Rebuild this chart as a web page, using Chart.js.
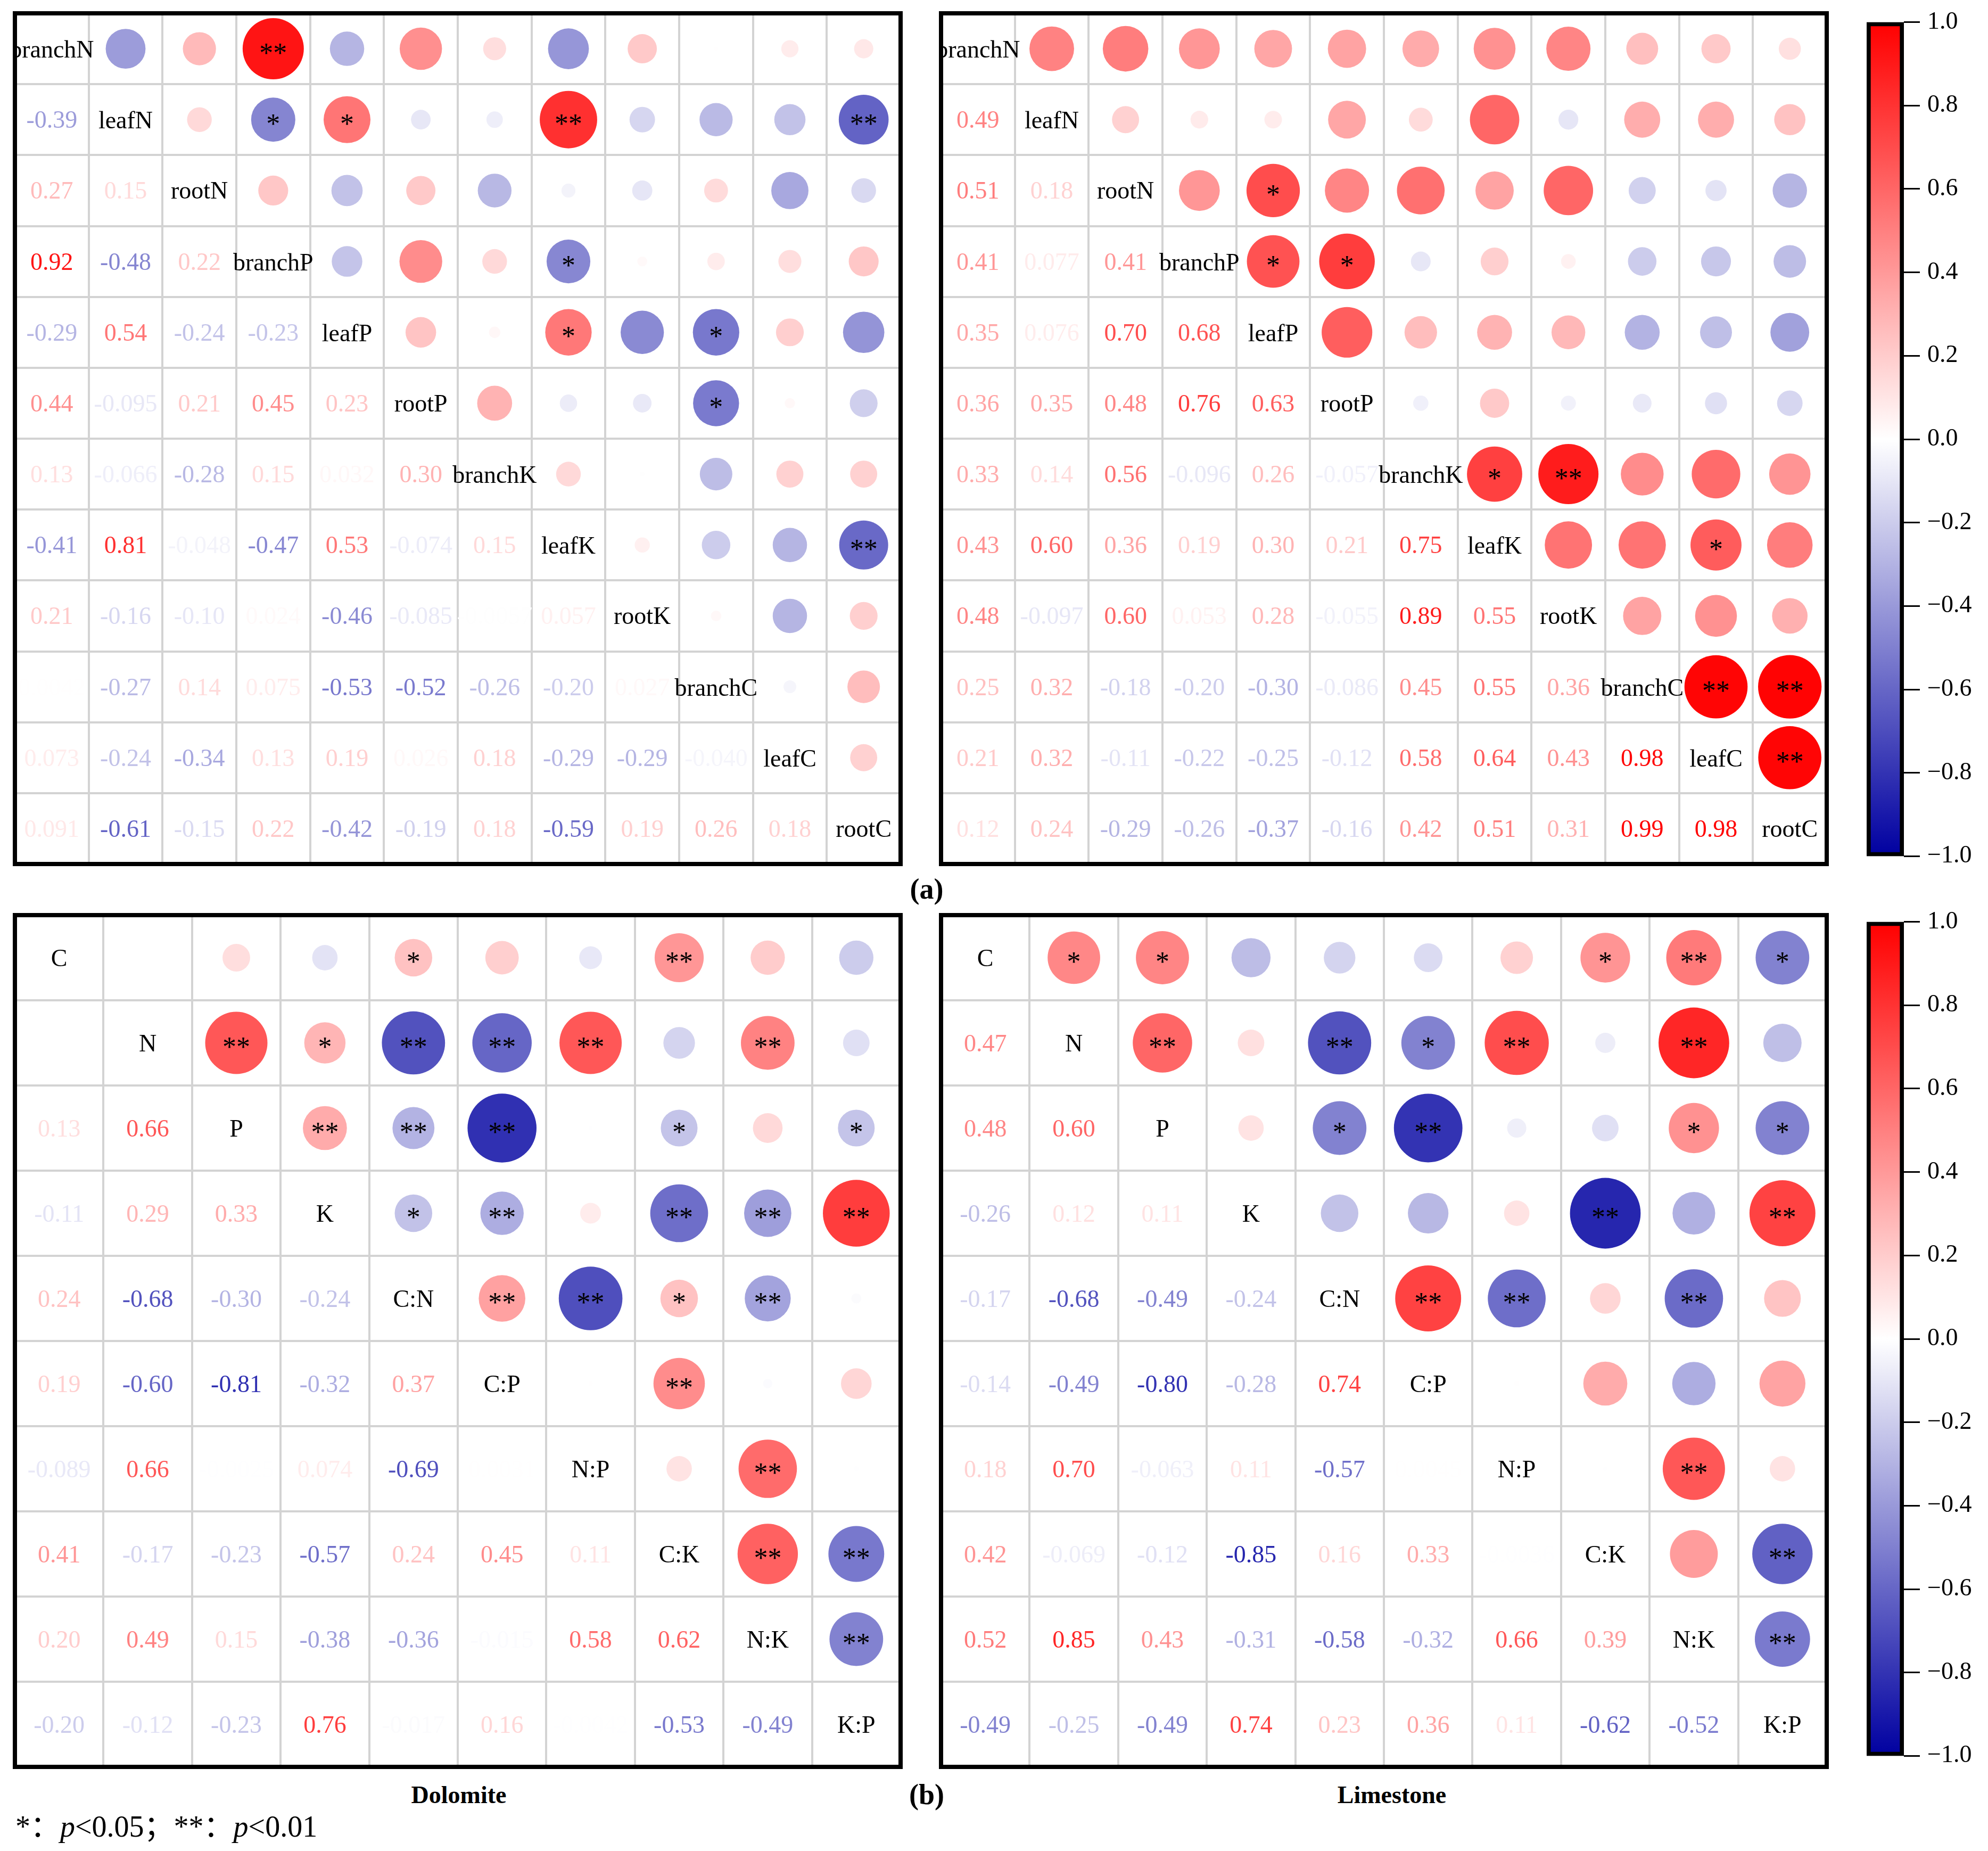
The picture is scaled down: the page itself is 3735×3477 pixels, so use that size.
<!DOCTYPE html>
<html lang="en">
<head>
<meta charset="UTF-8">
<title>Correlation matrices</title>
<script src="https://cdn.jsdelivr.net/npm/chart.js"></script>
<style>
    body {
        margin: 0;
        padding: 0;
        background: #fff;
        width: 3735px;
        height: 3477px;
        position: relative;
        overflow: hidden;
        font-family: "Liberation Serif", serif;
    }
    canvas { position: absolute; }
    .lbl {
        position: absolute;
        font-weight: bold;
        transform: translate(-50%, -50%);
        white-space: nowrap;
    }
    .note {
        position: absolute;
        left: 29px;
        top: 3425px;
        transform: translateY(-50%);
        font-size: 56px;
        font-family: "Liberation Serif", "Noto Sans CJK SC", serif;
        white-space: nowrap;
    }
</style>
</head>
<body>
<canvas id="tl" width="1672" height="1606" style="left:24px;top:21px;"></canvas>
<canvas id="tr" width="1672" height="1606" style="left:1764px;top:21px;"></canvas>
<canvas id="cbTop" width="230" height="1650" style="left:3497px;top:0px;"></canvas>
<canvas id="bl" width="1672" height="1608" style="left:24px;top:1715px;"></canvas>
<canvas id="br" width="1672" height="1608" style="left:1764px;top:1715px;"></canvas>
<canvas id="cbBot" width="230" height="1650" style="left:3497px;top:1690px;"></canvas>

<div class="lbl" style="left:1741px;top:1670px;font-size:54px;">(a)</div>
<div class="lbl" style="left:862px;top:3371px;font-size:46px;">Dolomite</div>
<div class="lbl" style="left:1741px;top:3371px;font-size:54px;">(b)</div>
<div class="lbl" style="left:2615px;top:3371px;font-size:46px;">Limestone</div>
<div class="note">*：<i>p</i>&lt;0.05；**：<i>p</i>&lt;0.01</div>

<script>
    // variable names
    const organLabels = ['branchN', 'leafN', 'rootN', 'branchP', 'leafP', 'rootP',
                         'branchK', 'leafK', 'rootK', 'branchC', 'leafC', 'rootC'];
    const ratioLabels = ['C', 'N', 'P', 'K', 'C:N', 'C:P', 'N:P', 'C:K', 'N:K', 'K:P'];

    // lower triangles: row i holds r(i, 0..i-1)
    const organDolomite = [
        [],
        [-0.39],
        [0.27, 0.15],
        [0.92, -0.48, 0.22],
        [-0.29, 0.54, -0.24, -0.23],
        [0.44, -0.095, 0.21, 0.45, 0.23],
        [0.13, -0.066, -0.28, 0.15, 0.032, 0.30],
        [-0.41, 0.81, -0.048, -0.47, 0.53, -0.074, 0.15],
        [0.21, -0.16, -0.10, 0.024, -0.46, -0.085, -0.0057, 0.057],
        [0.0042, -0.27, 0.14, 0.075, -0.53, -0.52, -0.26, -0.20, 0.027],
        [0.073, -0.24, -0.34, 0.13, 0.19, 0.026, 0.18, -0.29, -0.29, -0.040],
        [0.091, -0.61, -0.15, 0.22, -0.42, -0.19, 0.18, -0.59, 0.19, 0.26, 0.18]
    ];
    const organLimestone = [
        [],
        [0.49],
        [0.51, 0.18],
        [0.41, 0.077, 0.41],
        [0.35, 0.076, 0.70, 0.68],
        [0.36, 0.35, 0.48, 0.76, 0.63],
        [0.33, 0.14, 0.56, -0.096, 0.26, -0.057],
        [0.43, 0.60, 0.36, 0.19, 0.30, 0.21, 0.75],
        [0.48, -0.097, 0.60, 0.053, 0.28, -0.055, 0.89, 0.55],
        [0.25, 0.32, -0.18, -0.20, -0.30, -0.086, 0.45, 0.55, 0.36],
        [0.21, 0.32, -0.11, -0.22, -0.25, -0.12, 0.58, 0.64, 0.43, 0.98],
        [0.12, 0.24, -0.29, -0.26, -0.37, -0.16, 0.42, 0.51, 0.31, 0.99, 0.98]
    ];
    const ratioDolomite = [
        [],
        [-0.00021],
        [0.13, 0.66],
        [-0.11, 0.29, 0.33],
        [0.24, -0.68, -0.30, -0.24],
        [0.19, -0.60, -0.81, -0.32, 0.37],
        [-0.089, 0.66, -0.0025, 0.074, -0.69, 0.0031],
        [0.41, -0.17, -0.23, -0.57, 0.24, 0.45, 0.11],
        [0.20, 0.49, 0.15, -0.38, -0.36, -0.015, 0.58, 0.62],
        [-0.20, -0.12, -0.23, 0.76, -0.017, 0.16, -0.0042, -0.53, -0.49]
    ];
    const ratioLimestone = [
        [],
        [0.47],
        [0.48, 0.60],
        [-0.26, 0.12, 0.11],
        [-0.17, -0.68, -0.49, -0.24],
        [-0.14, -0.49, -0.80, -0.28, 0.74],
        [0.18, 0.70, -0.063, 0.11, -0.57, 0.0045],
        [0.42, -0.069, -0.12, -0.85, 0.16, 0.33, -0.0036],
        [0.52, 0.85, 0.43, -0.31, -0.58, -0.32, 0.66, 0.39],
        [-0.49, -0.25, -0.49, 0.74, 0.23, 0.36, 0.11, -0.62, -0.52]
    ];

    // significance marks in the upper triangle: [row, col, mark]
    const organDolomiteSig = [
        [0, 3, '**'], [1, 3, '*'], [1, 4, '*'], [1, 7, '**'], [1, 11, '**'],
        [3, 7, '*'], [4, 7, '*'], [4, 9, '*'], [5, 9, '*'], [7, 11, '**']
    ];
    const organLimestoneSig = [
        [2, 4, '*'], [3, 4, '*'], [3, 5, '*'], [6, 7, '*'], [6, 8, '**'],
        [7, 10, '*'], [9, 10, '**'], [9, 11, '**'], [10, 11, '**']
    ];
    const ratioDolomiteSig = [
        [0, 4, '*'], [0, 7, '**'],
        [1, 2, '**'], [1, 3, '*'], [1, 4, '**'], [1, 5, '**'], [1, 6, '**'], [1, 8, '**'],
        [2, 3, '**'], [2, 4, '**'], [2, 5, '**'], [2, 7, '*'], [2, 9, '*'],
        [3, 4, '*'], [3, 5, '**'], [3, 7, '**'], [3, 8, '**'], [3, 9, '**'],
        [4, 5, '**'], [4, 6, '**'], [4, 7, '*'], [4, 8, '**'],
        [5, 7, '**'], [6, 8, '**'], [7, 8, '**'], [7, 9, '**'], [8, 9, '**']
    ];
    const ratioLimestoneSig = [
        [0, 1, '*'], [0, 2, '*'], [0, 7, '*'], [0, 8, '**'], [0, 9, '*'],
        [1, 2, '**'], [1, 4, '**'], [1, 5, '*'], [1, 6, '**'], [1, 8, '**'],
        [2, 4, '*'], [2, 5, '**'], [2, 8, '*'], [2, 9, '*'],
        [3, 7, '**'], [3, 9, '**'],
        [4, 5, '**'], [4, 6, '**'], [4, 8, '**'],
        [6, 8, '**'], [7, 9, '**'], [8, 9, '**']
    ];

    const colorTicks = [-1.0, -0.8, -0.6, -0.4, -0.2, 0.0, 0.2, 0.4, 0.6, 0.8, 1.0];

    const FONT = '"Liberation Serif", "Times New Roman", serif';

    // white -> red for positive, white -> dark blue for negative
    function colorFor(v) {
        const t = Math.min(1, Math.abs(v));
        if (v >= 0) {
            const c = Math.round(255 * (1 - t));
            return `rgb(255,${c},${c})`;
        }
        const c = Math.round(255 * (1 - t));
        const b = Math.round(255 - 95 * t);
        return `rgb(${c},${c},${b})`;
    }

    function fmt(v) {
        if (v !== 0 && Math.abs(v) < 0.001) return v.toExponential(1).toUpperCase();
        return v.toPrecision(2);
    }

    function drawCentered(ctx, s, x, y) {
        const m = ctx.measureText(s);
        ctx.fillText(s, x, y + (m.actualBoundingBoxAscent - m.actualBoundingBoxDescent) / 2);
    }

    function matrixChart(id, names, lower, marks) {
        const n = names.length;
        const r = (i, j) => (i > j ? lower[i][j] : lower[j][i]);
        const points = [];
        for (let i = 0; i < n; i++) {
            for (let j = i + 1; j < n; j++) points.push({ x: j, y: i, v: r(i, j) });
        }
        const edges = [];
        for (let k = 0; k <= n; k++) edges.push({ value: k - 0.5 });

        const cellSize = chart => Math.min(
            Math.abs(chart.scales.x.getPixelForValue(1) - chart.scales.x.getPixelForValue(0)),
            Math.abs(chart.scales.y.getPixelForValue(1) - chart.scales.y.getPixelForValue(0)));

        const cellText = {
            id: 'cellText',
            afterDatasetsDraw(chart) {
                const ctx = chart.ctx;
                const sx = chart.scales.x, sy = chart.scales.y;
                ctx.save();
                ctx.textAlign = 'center';
                ctx.textBaseline = 'alphabetic';
                ctx.font = `46px ${FONT}`;
                for (let i = 0; i < n; i++) {
                    // diagonal names
                    ctx.fillStyle = '#000';
                    drawCentered(ctx, names[i], sx.getPixelForValue(i), sy.getPixelForValue(i));
                    // coefficients below the diagonal
                    for (let j = 0; j < i; j++) {
                        const v = lower[i][j];
                        ctx.fillStyle = colorFor(v);
                        drawCentered(ctx, fmt(v), sx.getPixelForValue(j), sy.getPixelForValue(i));
                    }
                }
                ctx.fillStyle = '#000';
                ctx.font = `52px ${FONT}`;
                marks.forEach(([i, j, m]) => {
                    drawCentered(ctx, m, sx.getPixelForValue(j), sy.getPixelForValue(i));
                });
                ctx.restore();
            },
            afterDraw(chart) {
                const a = chart.chartArea;
                const ctx = chart.ctx;
                ctx.save();
                ctx.strokeStyle = '#000';
                ctx.lineWidth = 8;
                ctx.strokeRect(a.left, a.top, a.right - a.left, a.bottom - a.top);
                ctx.restore();
            }
        };

        const axis = reverse => ({
            type: 'linear',
            min: -0.5,
            max: n - 0.5,
            reverse: reverse,
            afterBuildTicks: s => { s.ticks = edges.slice(); },
            ticks: { display: false },
            grid: { color: '#d3d3d3', lineWidth: 4, drawTicks: false },
            border: { display: false }
        });

        return new Chart(document.getElementById(id), {
            type: 'scatter',
            data: {
                datasets: [{
                    data: points,
                    pointRadius: ctx => ctx.raw ? 0.45 * Math.sqrt(Math.abs(ctx.raw.v)) * cellSize(ctx.chart) : 0,
                    pointHoverRadius: ctx => ctx.raw ? 0.45 * Math.sqrt(Math.abs(ctx.raw.v)) * cellSize(ctx.chart) : 0,
                    backgroundColor: ctx => ctx.raw ? colorFor(ctx.raw.v) : '#fff',
                    borderWidth: 0
                }]
            },
            options: {
                responsive: false,
                animation: false,
                devicePixelRatio: 1,
                events: [],
                layout: { padding: 4 },
                plugins: { legend: { display: false }, tooltip: { enabled: false } },
                scales: { x: axis(false), y: axis(true) }
            },
            plugins: [cellText]
        });
    }

    function colorBar(id) {
        return new Chart(document.getElementById(id), {
            type: 'bar',
            data: {
                labels: [''],
                datasets: [{
                    data: [[-1, 1]],
                    backgroundColor: ctx => {
                        const chart = ctx.chart;
                        if (!chart.chartArea) return '#fff';
                        const y = chart.scales.y;
                        const g = chart.ctx.createLinearGradient(0, y.getPixelForValue(-1), 0, y.getPixelForValue(1));
                        for (let k = 0; k <= 20; k++) g.addColorStop(k / 20, colorFor(-1 + k * 0.1));
                        return g;
                    },
                    borderColor: '#000',
                    borderWidth: 8,
                    borderSkipped: false,
                    categoryPercentage: 1,
                    barPercentage: 1
                }]
            },
            options: {
                responsive: false,
                animation: false,
                devicePixelRatio: 1,
                events: [],
                layout: { padding: { left: 10, right: 0, top: 30, bottom: 36 } },
                plugins: { legend: { display: false }, tooltip: { enabled: false } },
                scales: {
                    x: { display: false },
                    y: {
                        position: 'right',
                        min: -1,
                        max: 1,
                        afterBuildTicks: s => { s.ticks = colorTicks.map(v => ({ value: v })); },
                        afterFit: s => { s.width = 150; },
                        ticks: {
                            callback: v => (v < 0 ? '\u2212' + Math.abs(v).toFixed(1) : v.toFixed(1)),
                            color: '#000',
                            font: { family: FONT, size: 46 },
                            padding: 14
                        },
                        grid: { drawOnChartArea: false, drawTicks: true, tickLength: 30, color: '#000', lineWidth: 3 },
                        border: { display: false }
                    }
                }
            }
        });
    }

    matrixChart('tl', organLabels, organDolomite, organDolomiteSig);
    matrixChart('tr', organLabels, organLimestone, organLimestoneSig);
    matrixChart('bl', ratioLabels, ratioDolomite, ratioDolomiteSig);
    matrixChart('br', ratioLabels, ratioLimestone, ratioLimestoneSig);
    colorBar('cbTop');
    colorBar('cbBot');
</script>
</body>
</html>
